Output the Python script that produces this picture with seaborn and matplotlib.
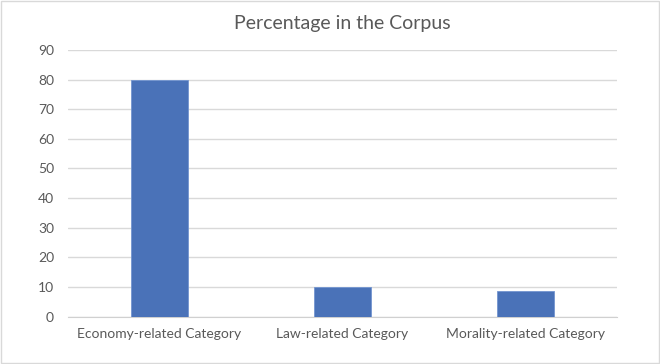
import matplotlib
matplotlib.use('Agg')
import matplotlib.pyplot as plt
import seaborn as sns
import pandas as pd

categories = ['Economy-related Category', 'Law-related Category', 'Morality-related Category']
percentages = [80, 10, 8.7]
yticks = [0, 10, 20, 30, 40, 50, 60, 70, 80, 90]

df = pd.DataFrame({'category': categories, 'percent': percentages})

sns.set_style('white')
plt.rcParams['font.family'] = ['Lato', 'DejaVu Sans']

fig = plt.figure(figsize=(6.6, 3.64), dpi=100)
ax = fig.add_axes([0.103, 0.130, 0.832, 0.733])

sns.barplot(data=df, x='category', y='percent', color='#4a72b8', saturation=1,
            width=0.31, edgecolor='#7395d0', linewidth=0.6, ax=ax, zorder=3)

ax.set_ylim(0, 90)
ax.set_yticks(yticks)
ax.set_xlim(-0.5, 2.5)
ax.grid(axis='y', color='#d9d9d9', linewidth=1, zorder=0)
ax.set_xlabel('')
ax.set_ylabel('')
for s in ['top', 'right', 'left']:
    ax.spines[s].set_visible(False)
ax.spines['bottom'].set_color('#d0d0d0')
ax.spines['bottom'].set_zorder(1)
ax.tick_params(axis='both', length=0, labelsize=10, colors='#595959', pad=8)
ax.tick_params(axis='y', pad=10)

ax.set_title('Percentage in the Corpus', fontsize=14, color='#595959', pad=15)

# light border round the chart area like excel
fig.patches.append(plt.Rectangle((0.001, 0.002), 0.997, 0.995, transform=fig.transFigure,
                                 fill=False, edgecolor='#d9d9d9', linewidth=1))

fig.savefig('out.png', dpi=100)
